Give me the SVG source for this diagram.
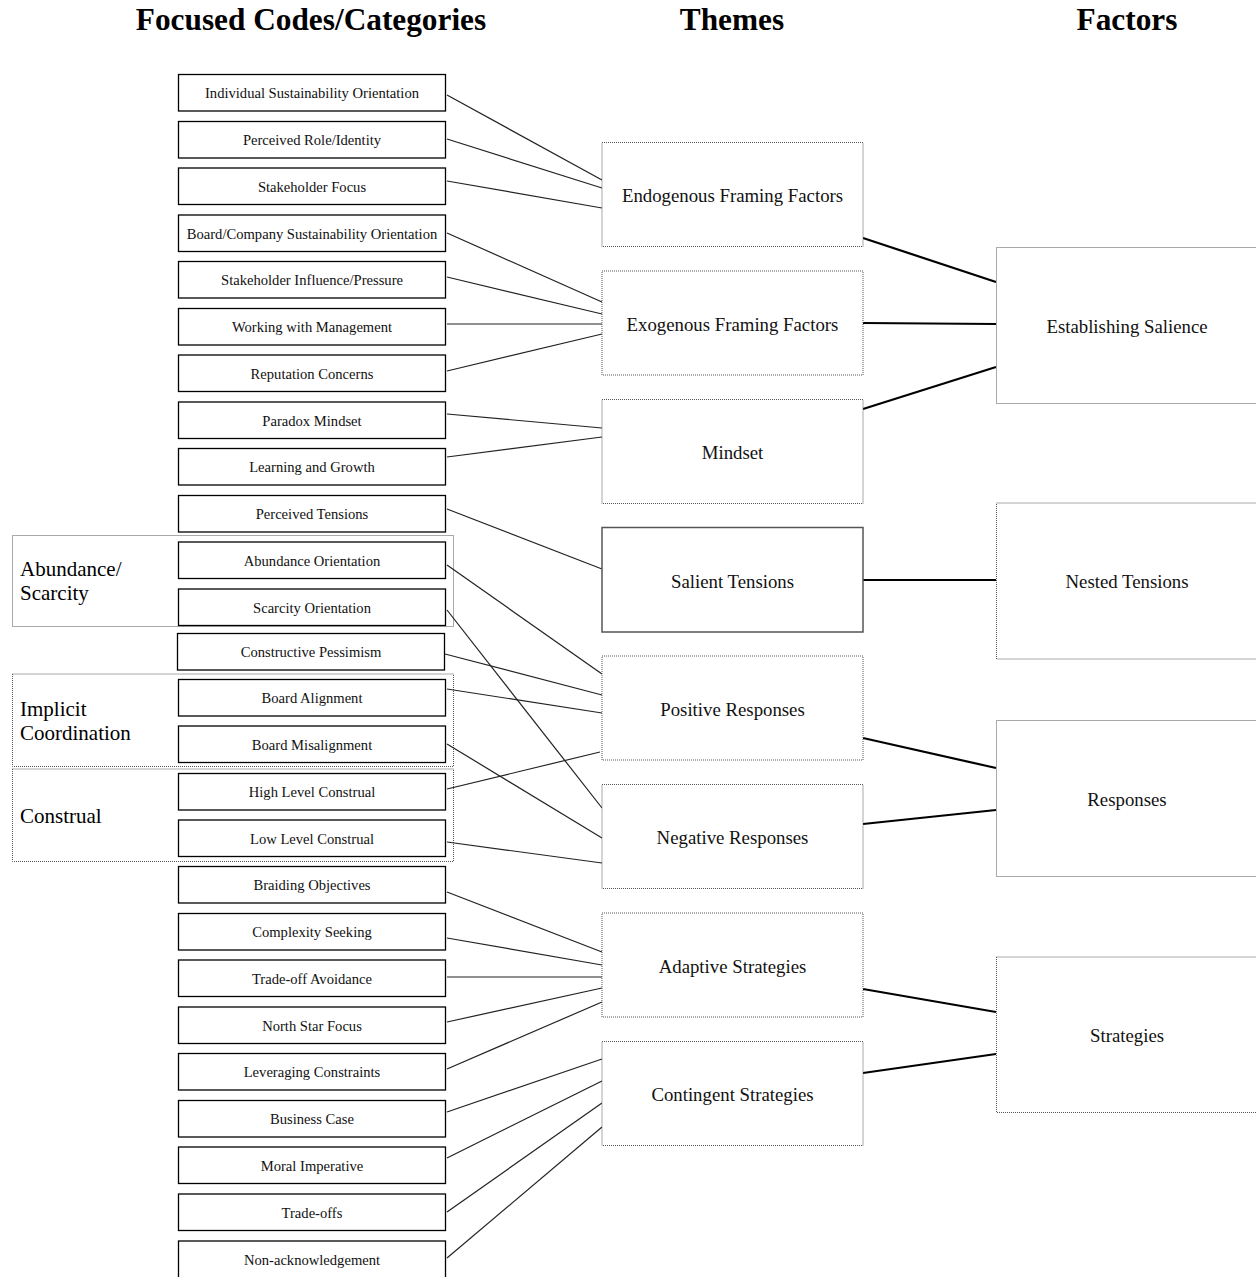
<svg xmlns="http://www.w3.org/2000/svg" width="1256" height="1277" viewBox="0 0 1256 1277">
  <style>
    .hdr { font-family: "Liberation Serif", "Times New Roman", serif; font-weight: bold; font-size: 31.3px; fill: #000; text-anchor: middle; }
    .code rect { fill: #fff; stroke: #000; stroke-width: 1.3; }
    .code text { font-family: "Liberation Serif", "Times New Roman", serif; font-size: 14.6px; fill: #111; text-anchor: middle; }
    .grp rect { fill: none; stroke: #555; stroke-width: 1; stroke-dasharray: 1 1; }
    .grp text { font-family: "Liberation Serif", "Times New Roman", serif; font-size: 21px; fill: #000; }
    .theme rect { fill: #fff; stroke: #555; stroke-width: 1; stroke-dasharray: 1 1; }
    .theme.solid rect { stroke: #555; stroke-width: 1.5; stroke-dasharray: none; }
    .theme text, .factor text { font-family: "Liberation Serif", "Times New Roman", serif; font-size: 18.8px; fill: #111; text-anchor: middle; }
    .factor rect { fill: #fff; stroke: #555; stroke-width: 1; stroke-dasharray: 1 1; }
    .thin line { stroke: #222; stroke-width: 1.2; }
    .thick line { stroke: #000; stroke-width: 2.2; }
  </style>

  <rect x="0" y="0" width="1256" height="1277" fill="#fff"/>

  <!-- column headings -->
  <text class="hdr" x="311" y="30">Focused Codes/Categories</text>
  <text class="hdr" x="732" y="30">Themes</text>
  <text class="hdr" x="1127" y="30">Factors</text>

  <!-- grouping frames around related codes -->
  <g id="group-abundance-scarcity" class="grp">
    <rect x="12.5" y="535.5" width="441" height="91"/>
    <text x="20" y="576">Abundance/</text>
    <text x="20" y="600">Scarcity</text>
  </g>
  <g id="group-implicit-coordination" class="grp">
    <rect x="12.5" y="674" width="441" height="92.5"/>
    <text x="20" y="716">Implicit</text>
    <text x="20" y="740">Coordination</text>
  </g>
  <g id="group-construal" class="grp">
    <rect x="12.5" y="769" width="441" height="92.5"/>
    <text x="20" y="823">Construal</text>
  </g>

  <!-- connectors -->
  <g id="connectors">
    <g class="thin">
      <line x1="447" y1="95" x2="602" y2="180"/>
      <line x1="447" y1="139" x2="602" y2="188"/>
      <line x1="447" y1="181" x2="602" y2="208"/>
      <line x1="447" y1="233" x2="602" y2="302"/>
      <line x1="447" y1="277" x2="602" y2="314"/>
      <line x1="447" y1="324" x2="602" y2="324"/>
      <line x1="447" y1="371" x2="602" y2="334"/>
      <line x1="447" y1="414" x2="602" y2="428"/>
      <line x1="447" y1="457" x2="602" y2="437"/>
      <line x1="447" y1="509" x2="602" y2="569"/>
      <line x1="447" y1="565" x2="602" y2="674"/>
      <line x1="447" y1="610" x2="602" y2="808"/>
      <line x1="445" y1="654" x2="602" y2="695"/>
      <line x1="447" y1="689" x2="602" y2="713"/>
      <line x1="447" y1="744" x2="602" y2="838"/>
      <line x1="447" y1="789" x2="600" y2="752"/>
      <line x1="447" y1="842" x2="602" y2="863"/>
      <line x1="447" y1="892" x2="602" y2="952"/>
      <line x1="447" y1="938" x2="602" y2="965"/>
      <line x1="447" y1="977" x2="602" y2="977"/>
      <line x1="447" y1="1022" x2="602" y2="988"/>
      <line x1="447" y1="1069" x2="602" y2="1002"/>
      <line x1="447" y1="1112" x2="602" y2="1059"/>
      <line x1="447" y1="1158" x2="602" y2="1081"/>
      <line x1="447" y1="1212" x2="602" y2="1103"/>
      <line x1="447" y1="1258" x2="602" y2="1127"/>
    </g>
    <g class="thick">
      <line x1="863" y1="238" x2="996" y2="282"/>
      <line x1="863" y1="323" x2="996" y2="324"/>
      <line x1="863" y1="409" x2="996" y2="367"/>
      <line x1="863" y1="580" x2="996" y2="580"/>
      <line x1="863" y1="738" x2="996" y2="768"/>
      <line x1="863" y1="824" x2="996" y2="810"/>
      <line x1="863" y1="989" x2="996" y2="1012"/>
      <line x1="863" y1="1073" x2="996" y2="1054"/>
    </g>
  </g>

  <!-- focused codes -->
  <g id="code-individual-sustainability" class="code"><rect x="178.5" y="74.5" width="267" height="36.5"/><text x="312" y="98">Individual Sustainability Orientation</text></g>
  <g id="code-perceived-role" class="code"><rect x="178.5" y="121.5" width="267" height="36.5"/><text x="312" y="145">Perceived Role/Identity</text></g>
  <g id="code-stakeholder-focus" class="code"><rect x="178.5" y="168" width="267" height="36.5"/><text x="312" y="192">Stakeholder Focus</text></g>
  <g id="code-board-company" class="code"><rect x="178.5" y="215" width="267" height="36.5"/><text x="312" y="238.5">Board/Company Sustainability Orientation</text></g>
  <g id="code-stakeholder-influence" class="code"><rect x="178.5" y="261.5" width="267" height="36.5"/><text x="312" y="285">Stakeholder Influence/Pressure</text></g>
  <g id="code-working-management" class="code"><rect x="178.5" y="308.5" width="267" height="36.5"/><text x="312" y="332">Working with Management</text></g>
  <g id="code-reputation" class="code"><rect x="178.5" y="355" width="267" height="36.5"/><text x="312" y="379">Reputation Concerns</text></g>
  <g id="code-paradox-mindset" class="code"><rect x="178.5" y="402" width="267" height="36.5"/><text x="312" y="425.5">Paradox Mindset</text></g>
  <g id="code-learning-growth" class="code"><rect x="178.5" y="448.5" width="267" height="36.5"/><text x="312" y="472">Learning and Growth</text></g>
  <g id="code-perceived-tensions" class="code"><rect x="178.5" y="495.5" width="267" height="36.5"/><text x="312" y="519">Perceived Tensions</text></g>
  <g id="code-abundance" class="code"><rect x="178.5" y="542" width="267" height="36.5"/><text x="312" y="566">Abundance Orientation</text></g>
  <g id="code-scarcity" class="code"><rect x="178.5" y="589" width="267" height="36.5"/><text x="312" y="612.5">Scarcity Orientation</text></g>
  <g id="code-constructive-pessimism" class="code"><rect x="177.5" y="633.5" width="267" height="36.5"/><text x="311" y="657">Constructive Pessimism</text></g>
  <g id="code-board-alignment" class="code"><rect x="178.5" y="679.5" width="267" height="36.5"/><text x="312" y="703">Board Alignment</text></g>
  <g id="code-board-misalignment" class="code"><rect x="178.5" y="726" width="267" height="36.5"/><text x="312" y="750">Board Misalignment</text></g>
  <g id="code-high-level" class="code"><rect x="178.5" y="773.5" width="267" height="36.5"/><text x="312" y="796.5">High Level Construal</text></g>
  <g id="code-low-level" class="code"><rect x="178.5" y="820" width="267" height="36.5"/><text x="312" y="843.5">Low Level Construal</text></g>
  <g id="code-braiding" class="code"><rect x="178.5" y="866.5" width="267" height="36.5"/><text x="312" y="890">Braiding Objectives</text></g>
  <g id="code-complexity" class="code"><rect x="178.5" y="913.5" width="267" height="36.5"/><text x="312" y="937">Complexity Seeking</text></g>
  <g id="code-tradeoff-avoidance" class="code"><rect x="178.5" y="960" width="267" height="36.5"/><text x="312" y="984">Trade-off Avoidance</text></g>
  <g id="code-north-star" class="code"><rect x="178.5" y="1007" width="267" height="36.5"/><text x="312" y="1030.5">North Star Focus</text></g>
  <g id="code-leveraging" class="code"><rect x="178.5" y="1053.5" width="267" height="36.5"/><text x="312" y="1077">Leveraging Constraints</text></g>
  <g id="code-business-case" class="code"><rect x="178.5" y="1100.5" width="267" height="36.5"/><text x="312" y="1124">Business Case</text></g>
  <g id="code-moral-imperative" class="code"><rect x="178.5" y="1147" width="267" height="36.5"/><text x="312" y="1171">Moral Imperative</text></g>
  <g id="code-tradeoffs" class="code"><rect x="178.5" y="1194" width="267" height="36.5"/><text x="312" y="1217.5">Trade-offs</text></g>
  <g id="code-non-acknowledgement" class="code"><rect x="178.5" y="1241" width="267" height="40"/><text x="312" y="1264.5">Non-acknowledgement</text></g>

  <!-- themes -->
  <g id="theme-endogenous" class="theme"><rect x="602" y="142.5" width="261" height="104"/><text x="732.5" y="201.5">Endogenous Framing Factors</text></g>
  <g id="theme-exogenous" class="theme"><rect x="602" y="271" width="261" height="104"/><text x="732.5" y="330.5">Exogenous Framing Factors</text></g>
  <g id="theme-mindset" class="theme"><rect x="602" y="399.5" width="261" height="104"/><text x="732.5" y="458.5">Mindset</text></g>
  <g id="theme-salient-tensions" class="theme solid"><rect x="602" y="527.5" width="261" height="104.5"/><text x="732.5" y="587.5">Salient Tensions</text></g>
  <g id="theme-positive" class="theme"><rect x="602" y="656" width="261" height="104"/><text x="732.5" y="715.5">Positive Responses</text></g>
  <g id="theme-negative" class="theme"><rect x="602" y="784.5" width="261" height="104"/><text x="732.5" y="844">Negative Responses</text></g>
  <g id="theme-adaptive" class="theme"><rect x="602" y="913" width="261" height="104"/><text x="732.5" y="972.5">Adaptive Strategies</text></g>
  <g id="theme-contingent" class="theme"><rect x="602" y="1041.5" width="261" height="104"/><text x="732.5" y="1101">Contingent Strategies</text></g>

  <!-- factors -->
  <g id="factor-establishing-salience" class="factor"><rect x="996.5" y="247.5" width="270" height="156"/><text x="1127" y="333">Establishing Salience</text></g>
  <g id="factor-nested-tensions" class="factor"><rect x="996.5" y="503" width="270" height="156"/><text x="1127" y="588">Nested Tensions</text></g>
  <g id="factor-responses" class="factor"><rect x="996.5" y="720.5" width="270" height="156"/><text x="1127" y="805.5">Responses</text></g>
  <g id="factor-strategies" class="factor"><rect x="996.5" y="957" width="270" height="155.5"/><text x="1127" y="1042">Strategies</text></g>
</svg>
